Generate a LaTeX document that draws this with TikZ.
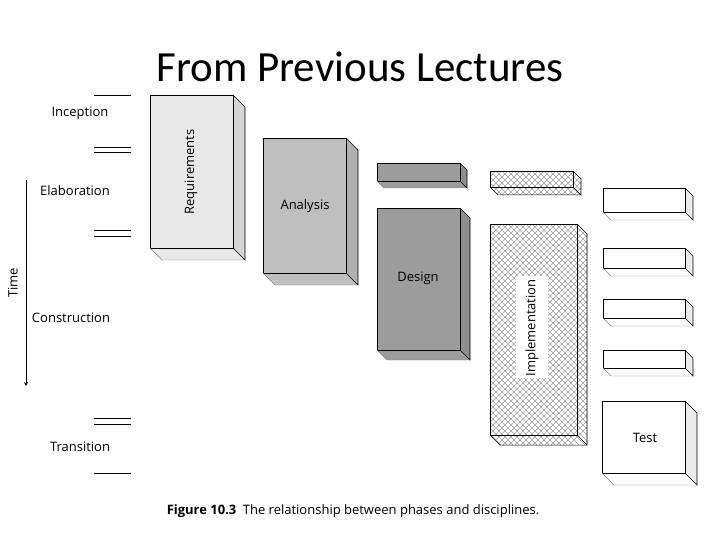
\documentclass[tikz,border=0pt]{standalone}
\usepackage{fontspec}
\setmainfont{Open Sans}
\newfontfamily\titlefont{Carlito}
\newcommand\mycube[6]{%
  \fill[#6] (#1,#2) rectangle (#3,#4);
  \fill[#6] (#3,#2) -- ({#3+#5},{#2+#5}) -- ({#3+#5},{#4+#5}) -- ({#1+#5},{#4+#5}) -- (#1,#4) -- (#3,#4) -- cycle;
  \fill[black,opacity=0.08] (#3,#2) -- ({#3+#5},{#2+#5}) -- ({#3+#5},{#4+#5}) -- (#3,#4) -- cycle;
  \draw[line width=0.9pt] (#1,#2) rectangle (#3,#4);
  \draw[line width=0.6pt] (#3,#2) -- ({#3+#5},{#2+#5}) -- ({#3+#5},{#4+#5}) -- (#3,#4);
  \draw[line width=0.4pt,gray] (#1,#4) -- ({#1+#5},{#4+#5}) -- ({#3+#5},{#4+#5});
}
\newcommand\hatchcube[5]{%
  \begin{scope}
  \clip (#1,#2) -- (#3,#2) -- ({#3+#5},{#2+#5}) -- ({#3+#5},{#4+#5}) -- ({#1+#5},{#4+#5}) -- (#1,#4) -- cycle;
  \foreach \k in {-300,-294,...,300} {
    \draw[gray!75,line width=0.4pt] ({#1+\k},#2) -- ({#1+\k+300},{#2+300});
    \draw[gray!75,line width=0.4pt] ({#1+\k},#2) -- ({#1+\k-300},{#2+300});
  }
  \end{scope}
  \draw[line width=0.9pt] (#1,#2) rectangle (#3,#4);
  \draw[line width=0.6pt] (#3,#2) -- ({#3+#5},{#2+#5}) -- ({#3+#5},{#4+#5}) -- (#3,#4);
  \draw[line width=0.5pt] (#1,#4) -- ({#1+#5},{#4+#5}) -- ({#3+#5},{#4+#5});
}
\tikzset{lbl/.style={font=\fontsize{13}{15}\selectfont}}
\begin{document}
\begin{tikzpicture}[x=1pt,y=-1pt]
\useasboundingbox (0,0) rectangle (720,540);
\node[font=\titlefont\fontsize{43}{46}\selectfont] (title) at (360,67) {From Previous Lectures};
% phases
\foreach \y in {95,147,152,230,236,418,424,473} \draw[line width=0.7pt] (94,\y) -- (131,\y);
\node[lbl] (inc) at (80,113) {Inception};
\node[lbl] (ela) at (75,191) {Elaboration};
\node[lbl] (con) at (71,318) {Construction};
\node[lbl] (tra) at (80,447) {Transition};
\coordinate (t0) at (26,180); \coordinate (t1) at (26,386);
\draw[line width=0.7pt,-stealth] (t0) -- (t1);
\node[lbl,rotate=90] (time) at (13,283) {Time};
\mycube{150}{95}{233}{248}{12}{gray!18}
\node[lbl,rotate=90] (req) at (191,172) {Requirements};
\mycube{263}{138}{346}{273}{12}{gray!50}
\node[lbl] (ana) at (305,206) {Analysis};
\mycube{377}{163}{460}{181}{7}{gray!78}
\mycube{377}{208}{460}{350}{10}{gray!78}
\node[lbl] (des) at (418,278) {Design};
\hatchcube{490}{171}{573}{187}{8}
\hatchcube{490}{224}{577}{435}{10}
\fill[white] (516,276) rectangle (548,378);
\node[lbl,rotate=90] (imp) at (532,328) {Implementation};
\mycube{603}{188}{685}{212}{8}{white}
\mycube{603}{248}{685}{268}{8}{white}
\mycube{603}{299}{685}{318}{8}{white}
\mycube{603}{350}{685}{368}{8}{white}
\mycube{602}{401}{685}{473}{12}{white}
\node[lbl] (test) at (645,438) {Test};
\node[font=\fontsize{13}{15}\selectfont] (cap) at (353,511) {\textbf{Figure 10.3}\enspace The relationship between phases and disciplines.};
\end{tikzpicture}
\end{document}
